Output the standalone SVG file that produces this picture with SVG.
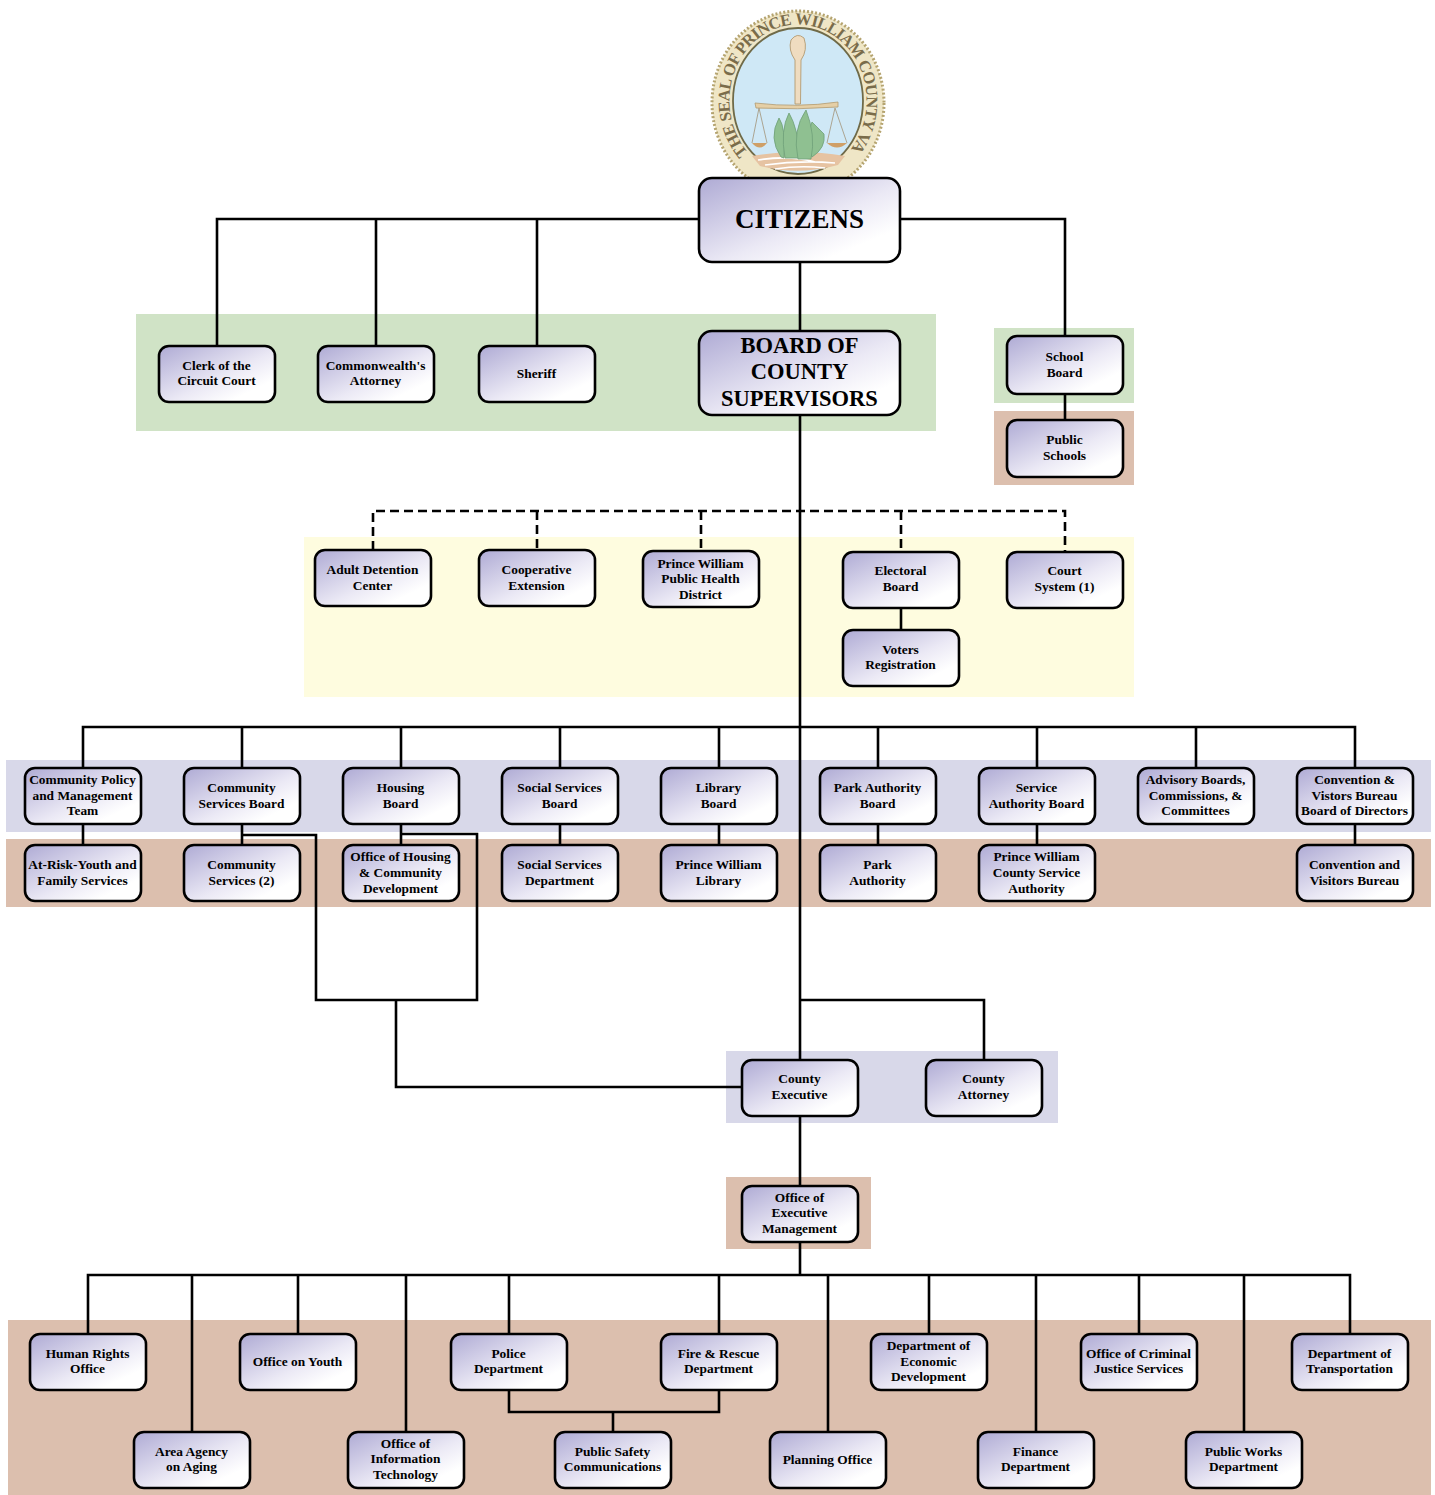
<svg xmlns="http://www.w3.org/2000/svg" width="1435" height="1495" viewBox="0 0 1435 1495">
<style>
.n{fill:url(#g);stroke:#000;stroke-width:2.6}
.t{font-family:"Liberation Serif","Times New Roman",serif;font-weight:bold;font-size:13.4px;text-anchor:middle;fill:#000;transform:translateX(-.5px)}
.b{font-size:22.5px}
.c{font-size:27px}
.l{fill:none;stroke:#000;stroke-width:2.6}
.d{stroke-dasharray:9 5}
.sl{font-family:"Liberation Serif",serif;font-weight:bold;font-size:16.5px;fill:#7a6c4a}
.lf{fill:#8fc091;stroke:#6f9f78;stroke-width:.8}
.ch{fill:none;stroke:#a79c86;stroke-width:.9}
</style>
<defs>
<linearGradient id="g" x1="0" y1="0" x2="1" y2="1"><stop offset="0" stop-color="#aeaad4"/><stop offset=".55" stop-color="#ebe9f5"/><stop offset=".8" stop-color="#fff"/></linearGradient>
<path id="sp" d="M 748 152.500 A 68.500 76 0 1 1 848 152.500"/>
</defs>
<rect width="1435" height="1495" fill="#fff"/>
<g id="bands">
<rect x="136" y="314" width="800" height="117" fill="#d0e3c6"/>
<rect x="994" y="328" width="140" height="75" fill="#d0e3c6"/>
<rect x="994" y="411" width="140" height="74" fill="#dcbfae"/>
<rect x="304" y="537" width="830" height="160" fill="#fefcdf"/>
<rect x="6" y="760" width="1425" height="72" fill="#d8d8e9"/>
<rect x="6" y="839" width="1425" height="68" fill="#dcbfae"/>
<rect x="726" y="1051" width="332" height="72" fill="#d8d8e9"/>
<rect x="726" y="1177" width="145" height="72" fill="#dcbfae"/>
<rect x="8" y="1320" width="1423" height="175" fill="#dcbfae"/>
</g>
<g id="seal">
<ellipse cx="798" cy="103" rx="86" ry="92" fill="#efe6c6" stroke="#b5a470" stroke-width="3" stroke-dasharray="2 2"/>
<ellipse cx="798" cy="101" rx="65" ry="73" fill="#cfe8f6" stroke="#6f6a48" stroke-width="1.8"/>
<text class="sl"><textPath href="#sp" textLength="335" lengthAdjust="spacing">THE SEAL OF PRINCE WILLIAM COUNTY VA</textPath></text>
<path d="M752 156Q798 148 845 156L838 165Q798 176 760 166Z" fill="#e6c3a2"/>
<path d="M758 160Q790 155 815 162M765 165Q800 160 835 163M775 169Q800 165 825 168" fill="none" stroke="#fff" stroke-width="1.6"/>
<path d="M795 104V60Q788 50 791 40Q797 32 804 38Q808 50 801 60L800.500 104Z" fill="#efdcc0" stroke="#b39a70" stroke-width=".9"/>
<path d="M755 103Q798 108 838 102V107Q798 110 756 108Z" fill="#e5cfa6" stroke="#b39a70" stroke-width=".8"/>
<path class="ch" d="M759 108L752 143M759 108L767 143M835 108L827 143M835 108L847 143"/>
<path d="M752 143Q760 152 767 143ZM827 143Q837 152 847 143Z" fill="#cf9f67"/>
<path class="lf" d="M781 157Q768 138 779 118Q786 128 784 158Z"/>
<path class="lf" d="M812 157Q826 148 824 134Q818 128 812 122Q804 140 812 157Z"/>
<path class="lf" d="M785 158Q780 130 789 113Q798 128 800 158Z"/>
<path class="lf" d="M798 159Q792 130 806 110Q816 135 811 159Z"/>
</g>
<g id="connectors">
<path class="l" d="M699 219H217V346M376 219V346M537 219V346M900 219H1065V336M800 262V331M1065 394V420M800 415V1060M800 1116V1186M800 1242V1274"/>
<path class="l d" d="M373 550V511H1065V552M537 511V550M701 511V551M901 511V552"/>
<path class="l" d="M901 608V630"/>
<path class="l" d="M83 768V727H1355V768M242 727V768M401 727V768M560 727V768M719 727V768M878 727V768M1037 727V768M1196 727V768"/>
<path class="l" d="M83 824V845M242 824V845M401 824V845M560 824V845M719 824V845M878 824V845M1037 824V845M1355 824V845"/>
<path class="l" d="M242 835H316V1000H477V834H401M396 1000V1087H742"/>
<path class="l" d="M800 1000H984V1060"/>
<path class="l" d="M88 1334V1275H1350V1334M298 1275V1334M509 1275V1334M719 1275V1334M929 1275V1334M1139 1275V1334M192 1275V1432M406 1275V1432M828 1275V1432M1036 1275V1432M1244 1275V1432"/>
<path class="l" d="M509 1390V1412H719V1390M613 1412V1432"/>
</g>
<g id="citizens"><rect class="n" x="699" y="178" width="201" height="84" rx="13"/><text class="t c" x="800" y="228">CITIZENS</text></g>
<g id="board-of-supervisors"><rect class="n" x="699" y="331" width="201" height="84" rx="13"/><text class="t b" x="800" y="353">BOARD OF</text><text class="t b" x="800" y="379">COUNTY</text><text class="t b" x="800" y="406">SUPERVISORS</text></g>
<g id="clerk"><rect class="n" x="159" y="346" width="116" height="56" rx="10"/><text class="t" x="217" y="370">Clerk of the</text><text class="t" x="217" y="385">Circuit Court</text></g>
<g id="attorney"><rect class="n" x="318" y="346" width="116" height="56" rx="10"/><text class="t" x="376" y="370">Commonwealth's</text><text class="t" x="376" y="385">Attorney</text></g>
<g id="sheriff"><rect class="n" x="479" y="346" width="116" height="56" rx="10"/><text class="t" x="537" y="378">Sheriff</text></g>
<g id="school-board"><rect class="n" x="1007" y="336" width="116" height="58" rx="10"/><text class="t" x="1065" y="361">School</text><text class="t" x="1065" y="377">Board</text></g>
<g id="public-schools"><rect class="n" x="1007" y="420" width="116" height="57" rx="10"/><text class="t" x="1065" y="444">Public</text><text class="t" x="1065" y="460">Schools</text></g>
<g id="adult-detention"><rect class="n" x="315" y="550" width="116" height="56" rx="10"/><text class="t" x="373" y="574">Adult Detention</text><text class="t" x="373" y="590">Center</text></g>
<g id="cooperative"><rect class="n" x="479" y="550" width="116" height="56" rx="10"/><text class="t" x="537" y="574">Cooperative</text><text class="t" x="537" y="590">Extension</text></g>
<g id="health-district"><rect class="n" x="643" y="551" width="116" height="56" rx="10"/><text class="t" x="701" y="568">Prince William</text><text class="t" x="701" y="583">Public Health</text><text class="t" x="701" y="599">District</text></g>
<g id="electoral"><rect class="n" x="843" y="552" width="116" height="56" rx="10"/><text class="t" x="901" y="575">Electoral</text><text class="t" x="901" y="591">Board</text></g>
<g id="court"><rect class="n" x="1007" y="552" width="116" height="56" rx="10"/><text class="t" x="1065" y="575">Court</text><text class="t" x="1065" y="591">System (1)</text></g>
<g id="voters"><rect class="n" x="843" y="630" width="116" height="56" rx="10"/><text class="t" x="901" y="654">Voters</text><text class="t" x="901" y="669">Registration</text></g>
<g id="cpmt"><rect class="n" x="25" y="768" width="116" height="56" rx="10"/><text class="t" x="83" y="784">Community Policy</text><text class="t" x="83" y="800">and Management</text><text class="t" x="83" y="815">Team</text></g>
<g id="csb"><rect class="n" x="184" y="768" width="116" height="56" rx="10"/><text class="t" x="242" y="792">Community</text><text class="t" x="242" y="808">Services Board</text></g>
<g id="housing-board"><rect class="n" x="343" y="768" width="116" height="56" rx="10"/><text class="t" x="401" y="792">Housing</text><text class="t" x="401" y="808">Board</text></g>
<g id="ssb"><rect class="n" x="502" y="768" width="116" height="56" rx="10"/><text class="t" x="560" y="792">Social Services</text><text class="t" x="560" y="808">Board</text></g>
<g id="library-board"><rect class="n" x="661" y="768" width="116" height="56" rx="10"/><text class="t" x="719" y="792">Library</text><text class="t" x="719" y="808">Board</text></g>
<g id="park-board"><rect class="n" x="820" y="768" width="116" height="56" rx="10"/><text class="t" x="878" y="792">Park Authority</text><text class="t" x="878" y="808">Board</text></g>
<g id="service-board"><rect class="n" x="979" y="768" width="116" height="56" rx="10"/><text class="t" x="1037" y="792">Service</text><text class="t" x="1037" y="808">Authority Board</text></g>
<g id="advisory"><rect class="n" x="1138" y="768" width="116" height="56" rx="10"/><text class="t" x="1196" y="784">Advisory Boards,</text><text class="t" x="1196" y="800">Commissions, &amp;</text><text class="t" x="1196" y="815">Committees</text></g>
<g id="convention-board"><rect class="n" x="1297" y="768" width="116" height="56" rx="10"/><text class="t" x="1355" y="784">Convention &amp;</text><text class="t" x="1355" y="800">Vistors Bureau</text><text class="t" x="1355" y="815">Board of Directors</text></g>
<g id="at-risk"><rect class="n" x="25" y="845" width="116" height="56" rx="10"/><text class="t" x="83" y="869">At-Risk-Youth and</text><text class="t" x="83" y="885">Family Services</text></g>
<g id="community-services"><rect class="n" x="184" y="845" width="116" height="56" rx="10"/><text class="t" x="242" y="869">Community</text><text class="t" x="242" y="885">Services (2)</text></g>
<g id="housing-office"><rect class="n" x="343" y="845" width="116" height="56" rx="10"/><text class="t" x="401" y="861">Office of Housing</text><text class="t" x="401" y="877">&amp; Community</text><text class="t" x="401" y="893">Development</text></g>
<g id="ss-dept"><rect class="n" x="502" y="845" width="116" height="56" rx="10"/><text class="t" x="560" y="869">Social Services</text><text class="t" x="560" y="885">Department</text></g>
<g id="library"><rect class="n" x="661" y="845" width="116" height="56" rx="10"/><text class="t" x="719" y="869">Prince William</text><text class="t" x="719" y="885">Library</text></g>
<g id="park"><rect class="n" x="820" y="845" width="116" height="56" rx="10"/><text class="t" x="878" y="869">Park</text><text class="t" x="878" y="885">Authority</text></g>
<g id="service-authority"><rect class="n" x="979" y="845" width="116" height="56" rx="10"/><text class="t" x="1037" y="861">Prince William</text><text class="t" x="1037" y="877">County Service</text><text class="t" x="1037" y="893">Authority</text></g>
<g id="convention"><rect class="n" x="1297" y="845" width="116" height="56" rx="10"/><text class="t" x="1355" y="869">Convention and</text><text class="t" x="1355" y="885">Visitors Bureau</text></g>
<g id="county-executive"><rect class="n" x="742" y="1060" width="116" height="56" rx="10"/><text class="t" x="800" y="1083">County</text><text class="t" x="800" y="1099">Executive</text></g>
<g id="county-attorney"><rect class="n" x="926" y="1060" width="116" height="56" rx="10"/><text class="t" x="984" y="1083">County</text><text class="t" x="984" y="1099">Attorney</text></g>
<g id="oem"><rect class="n" x="742" y="1186" width="116" height="56" rx="10"/><text class="t" x="800" y="1202">Office of</text><text class="t" x="800" y="1217">Executive</text><text class="t" x="800" y="1233">Management</text></g>
<g id="human-rights"><rect class="n" x="30" y="1334" width="116" height="56" rx="10"/><text class="t" x="88" y="1358">Human Rights</text><text class="t" x="88" y="1373">Office</text></g>
<g id="youth"><rect class="n" x="240" y="1334" width="116" height="56" rx="10"/><text class="t" x="298" y="1366">Office on Youth</text></g>
<g id="police"><rect class="n" x="451" y="1334" width="116" height="56" rx="10"/><text class="t" x="509" y="1358">Police</text><text class="t" x="509" y="1373">Department</text></g>
<g id="fire"><rect class="n" x="661" y="1334" width="116" height="56" rx="10"/><text class="t" x="719" y="1358">Fire &amp; Rescue</text><text class="t" x="719" y="1373">Department</text></g>
<g id="economic"><rect class="n" x="871" y="1334" width="116" height="56" rx="10"/><text class="t" x="929" y="1350">Department of</text><text class="t" x="929" y="1366">Economic</text><text class="t" x="929" y="1381">Development</text></g>
<g id="criminal-justice"><rect class="n" x="1081" y="1334" width="116" height="56" rx="10"/><text class="t" x="1139" y="1358">Office of Criminal</text><text class="t" x="1139" y="1373">Justice Services</text></g>
<g id="transportation"><rect class="n" x="1292" y="1334" width="116" height="56" rx="10"/><text class="t" x="1350" y="1358">Department of</text><text class="t" x="1350" y="1373">Transportation</text></g>
<g id="aging"><rect class="n" x="134" y="1432" width="116" height="56" rx="10"/><text class="t" x="192" y="1456">Area Agency</text><text class="t" x="192" y="1471">on Aging</text></g>
<g id="it"><rect class="n" x="348" y="1432" width="116" height="56" rx="10"/><text class="t" x="406" y="1448">Office of</text><text class="t" x="406" y="1463">Information</text><text class="t" x="406" y="1479">Technology</text></g>
<g id="public-safety"><rect class="n" x="555" y="1432" width="116" height="56" rx="10"/><text class="t" x="613" y="1456">Public Safety</text><text class="t" x="613" y="1471">Communications</text></g>
<g id="planning"><rect class="n" x="770" y="1432" width="116" height="56" rx="10"/><text class="t" x="828" y="1464">Planning Office</text></g>
<g id="finance"><rect class="n" x="978" y="1432" width="116" height="56" rx="10"/><text class="t" x="1036" y="1456">Finance</text><text class="t" x="1036" y="1471">Department</text></g>
<g id="public-works"><rect class="n" x="1186" y="1432" width="116" height="56" rx="10"/><text class="t" x="1244" y="1456">Public Works</text><text class="t" x="1244" y="1471">Department</text></g>
</svg>
